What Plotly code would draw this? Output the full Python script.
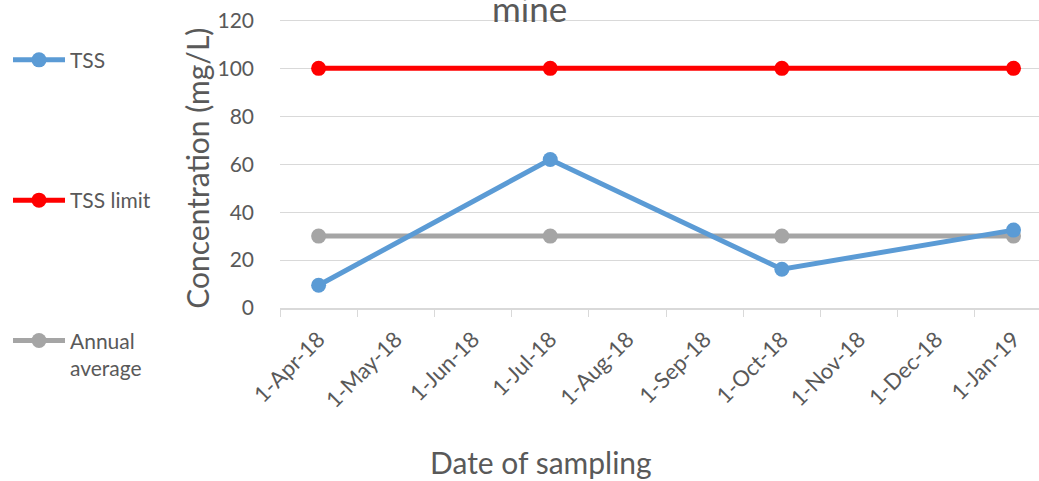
import plotly.graph_objects as go

months = ["1-Apr-18", "1-May-18", "1-Jun-18", "1-Jul-18", "1-Aug-18",
          "1-Sep-18", "1-Oct-18", "1-Nov-18", "1-Dec-18", "1-Jan-19"]
sample_dates = ["1-Apr-18", "1-Jul-18", "1-Oct-18", "1-Jan-19"]
tss = [9.5, 62.0, 16.2, 32.5]
tss_limit = [100, 100, 100, 100]
annual_avg = [30, 30, 30, 30]

GREY = "#595959"
FONT = "Lato"

fig = go.Figure()
fig.add_trace(go.Scatter(x=sample_dates, y=tss_limit, name="TSS limit", mode="lines+markers",
                         line=dict(color="#FF0000", width=5), marker=dict(size=15, color="#FF0000"),
                         legendgroup="b", legendrank=2))
fig.add_trace(go.Scatter(x=sample_dates, y=annual_avg, name="Annual<br>average", mode="lines+markers",
                         line=dict(color="#A5A5A5", width=5), marker=dict(size=15, color="#A5A5A5"),
                         legendgroup="c", legendrank=3))
fig.add_trace(go.Scatter(x=sample_dates, y=tss, name="TSS", mode="lines+markers",
                         line=dict(color="#5B9BD5", width=5), marker=dict(size=15, color="#5B9BD5"),
                         legendgroup="a", legendrank=1))

fig.update_layout(
    width=1039, height=481,
    margin=dict(l=280, r=0, t=18.56, b=173, autoexpand=False),
    paper_bgcolor="white", plot_bgcolor="white",
    font=dict(family=FONT, color=GREY),
    showlegend=True,
    legend=dict(xref="container", yref="container", x=0.0077, y=0.9175, xanchor="left", yanchor="top",
                font=dict(size=21, color=GREY, family=FONT), tracegroupgap=110, itemwidth=52,
                valign="top", bgcolor="rgba(0,0,0,0)", maxheight=470),
    annotations=[
        dict(text="mine", xref="paper", yref="paper", x=0.329, y=1.0, yshift=11,
             showarrow=False, font=dict(size=35, color=GREY, family=FONT),
             xanchor="center", yanchor="middle"),
        dict(text="Date of sampling", xref="paper", yref="paper", x=0.344, y=-0.532,
             showarrow=False, font=dict(size=30, color=GREY, family=FONT),
             xanchor="center", yanchor="middle"),
        dict(text="Concentration (mg/L)", xref="paper", yref="paper", x=-0.1094, y=0.4854,
             textangle=-90, showarrow=False, font=dict(size=30, color=GREY, family=FONT),
             xanchor="center", yanchor="middle"),
    ],
)
fig.update_xaxes(type="category", categoryorder="array", categoryarray=months,
                 tickvals=months, ticktext=months, automargin=False,
                 range=[-0.5, 9.33], tickson="boundaries", ticks="outside", ticklen=7,
                 tickcolor="#D9D9D9", showline=True, linecolor="#D9D9D9", linewidth=1.5,
                 showgrid=False, tickangle=-45, ticklabeloverflow="allow", ticklabelstandoff=8,
                 tickfont=dict(size=22, color=GREY, family=FONT))
fig.update_yaxes(range=[0, 120.6], tickvals=[0, 20, 40, 60, 80, 100, 120],
                 showgrid=True, gridcolor="#D9D9D9", gridwidth=1.3,
                 zeroline=False, showline=False, ticks="", ticklabelstandoff=25, automargin=False,
                 ticklabeloverflow="allow",
                 tickfont=dict(size=21, color=GREY, family=FONT))

fig.write_html("out.html", config={"displayModeBar": False},
               post_script="document.body.style.margin='0px';")
